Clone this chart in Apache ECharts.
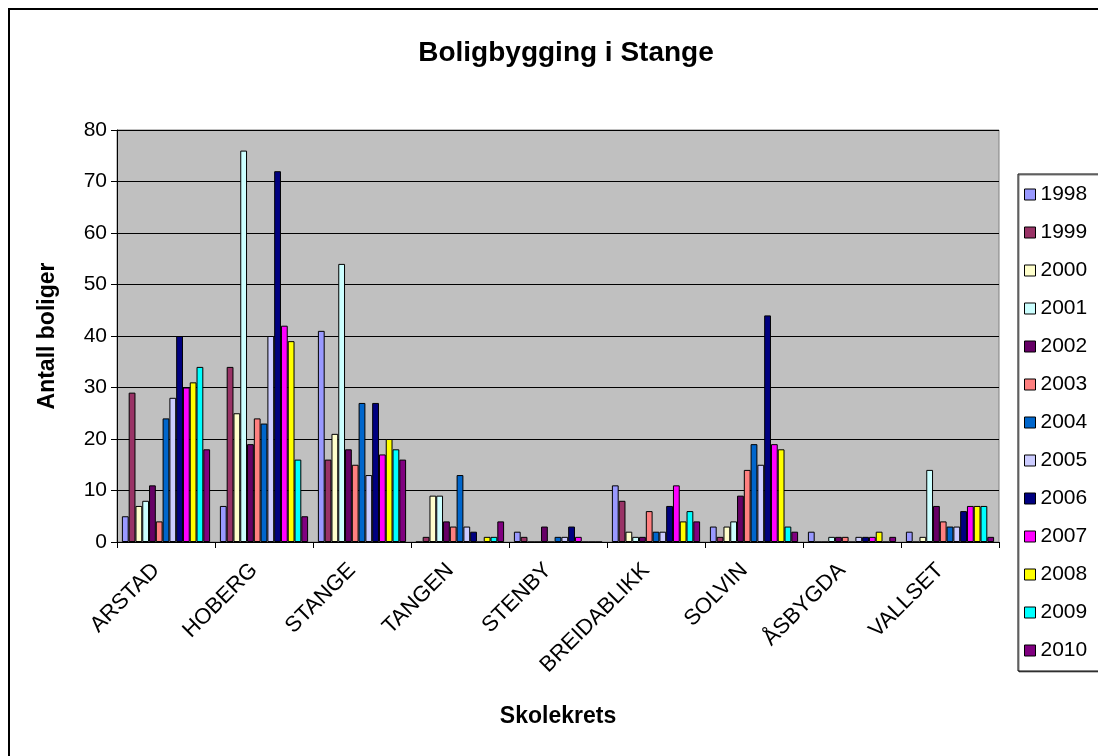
<!DOCTYPE html>
<html>
<head>
<meta charset="utf-8">
<script src="https://cdn.jsdelivr.net/npm/echarts@6/dist/echarts.min.js"></script>
<style>
html,body{margin:0;padding:0;background:#fff;}
#chart{width:1098px;height:756px;}
</style>
</head>
<body>
<div id="chart"></div>
<script>
const categories = ['ARSTAD','HOBERG','STANGE','TANGEN','STENBY','BREIDABLIKK','SOLVIN','ÅSBYGDA','VALLSET'];
const years = ['1998','1999','2000','2001','2002','2003','2004','2005','2006','2007','2008','2009','2010'];
// values per year, in category order
const y1998 = [5, 7, 41, 0, 2, 11, 3, 2, 2];
const y1999 = [29, 34, 16, 1, 1, 8, 1, 0, 0];
const y2000 = [7, 25, 21, 9, 0, 2, 3, 0, 1];
const y2001 = [8, 76, 54, 9, 0, 1, 4, 1, 14];
const y2002 = [11, 19, 18, 4, 3, 1, 9, 1, 7];
const y2003 = [4, 24, 15, 3, 0, 6, 14, 1, 4];
const y2004 = [24, 23, 27, 13, 1, 2, 19, 0, 3];
const y2005 = [28, 40, 13, 3, 1, 2, 15, 1, 3];
const y2006 = [40, 72, 27, 2, 3, 7, 44, 1, 6];
const y2007 = [30, 42, 17, 0, 1, 11, 19, 1, 7];
const y2008 = [31, 39, 20, 1, 0, 4, 18, 2, 7];
const y2009 = [34, 16, 18, 1, 0, 6, 3, 0, 7];
const y2010 = [18, 5, 16, 4, 0, 4, 2, 1, 1];
const yTicks = [0, 10, 20, 30, 40, 50, 60, 70, 80];

const seriesData = [y1998,y1999,y2000,y2001,y2002,y2003,y2004,y2005,y2006,y2007,y2008,y2009,y2010];
const colors = ['#9999FF','#993366','#FFFFCC','#CCFFFF','#660066','#FF8080','#0066CC','#CCCCFF','#000080','#FF00FF','#FFFF00','#00FFFF','#800080'];
const FONT = "'Liberation Sans', Arial, sans-serif";

const chart = echarts.init(document.getElementById('chart'), null, {renderer:'canvas'});
chart.setOption({
  animation: false,
  backgroundColor: '#ffffff',
  color: colors,
  textStyle: {fontFamily: FONT, color: '#000'},
  title: {
    text: 'Boligbygging i Stange',
    left: 561, top: 34, textAlign: 'center',
    textStyle: {fontFamily: FONT, fontSize: 28, fontWeight: 'bold', color: '#000'}
  },
  graphic: [{
    type: 'rect', silent: true, z: -1,
    shape: {x: 9, y: 9, width: 1200, height: 800},
    style: {fill: 'none', stroke: '#000', lineWidth: 2}
  }],
  legend: {
    orient: 'vertical',
    left: 1018, top: 174,
    padding: [10, 40, 10, 6],
    itemWidth: 11, itemHeight: 11,
    itemGap: 17,
    itemStyle: {borderColor: '#000', borderWidth: 1},
    icon: 'rect',
    borderColor: '#000', borderWidth: 1,
    shadowColor: 'rgba(0,0,0,0.5)', shadowOffsetX: 1, shadowOffsetY: 1,
    backgroundColor: '#fff',
    textStyle: {fontFamily: FONT, fontSize: 21, color: '#000', padding: [0,0,0,0]},
    data: years
  },
  grid: {
    left: 117, right: 99, top: 130, bottom: 214,
    show: true, backgroundColor: '#C0C0C0', borderColor: '#808080', borderWidth: 1,
    containLabel: false
  },
  xAxis: {
    type: 'category',
    data: categories,
    name: 'Skolekrets',
    nameLocation: 'middle',
    nameGap: 163,
    nameTextStyle: {fontFamily: FONT, fontSize: 23, fontWeight: 'bold', color: '#000'},
    axisLine: {show: true, lineStyle: {color: '#000', width: 1}},
    axisTick: {show: true, alignWithLabel: false, length: 6, lineStyle: {color: '#000'}},
    axisLabel: {rotate: 45, interval: 0, margin: 15, fontSize: 22, color: '#000', fontFamily: FONT,
      padding: [0, 14, 0, 0]}
  },
  yAxis: {
    type: 'value',
    min: 0, max: 80, interval: 10,
    name: 'Antall boliger',
    nameLocation: 'middle',
    nameGap: 58,
    nameTextStyle: {fontFamily: FONT, fontSize: 23, fontWeight: 'bold', color: '#000'},
    axisLine: {show: true, lineStyle: {color: '#000', width: 1}},
    axisTick: {show: true, length: 6, lineStyle: {color: '#000'}},
    axisLabel: {fontSize: 21, color: '#000', margin: 10, fontFamily: FONT,
      formatter: v => yTicks.includes(v) ? String(v) : ''},
    splitLine: {show: true, lineStyle: {color: '#000', width: 1}}
  },
  series: years.map((y, i) => ({
    name: y,
    type: 'bar',
    data: seriesData[i],
    barGap: '0%',
    barCategoryGap: '10%',
    itemStyle: {color: colors[i], borderColor: '#000', borderWidth: 1}
  }))
});
</script>
</body>
</html>
